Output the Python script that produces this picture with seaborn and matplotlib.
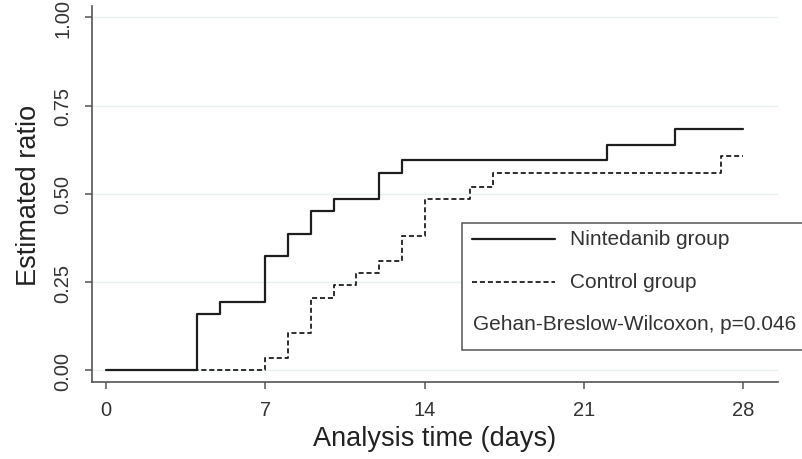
import matplotlib
matplotlib.use("Agg")
import matplotlib.pyplot as plt
from matplotlib.patches import Rectangle
from matplotlib.lines import Line2D
import seaborn as sns
import pandas as pd

# Cumulative event ratio by day for each arm (step functions)
nintedanib_days = [0, 4, 5, 7, 8, 9, 10, 12, 13, 22, 25, 28]
nintedanib_ratio = [0.0, 0.161, 0.194, 0.323, 0.387, 0.452, 0.484, 0.559, 0.597, 0.637, 0.683, 0.683]

control_days = [0, 7, 8, 9, 10, 11, 12, 13, 14, 16, 17, 27, 28]
control_ratio = [0.0, 0.034, 0.105, 0.206, 0.242, 0.277, 0.310, 0.380, 0.484, 0.518, 0.558, 0.608, 0.608]

x_ticks = [0, 7, 14, 21, 28]
y_ticks = [0.0, 0.25, 0.5, 0.75, 1.0]
y_tick_labels = ["0.00", "0.25", "0.50", "0.75", "1.00"]

group_labels = ["Nintedanib group", "Control group"]
test_note = "Gehan-Breslow-Wilcoxon, p=0.046"

sns.set_theme(style="white")
plt.rcParams["font.family"] = ["Liberation Sans", "DejaVu Sans"]

fig = plt.figure(figsize=(8.03, 4.60), dpi=100)
ax = fig.add_axes([92 / 803, 1 - 383 / 460, (778 - 92) / 803, (383 - 7) / 460])

line_color = "#1e1e1e"
nin_df = pd.DataFrame({"day": nintedanib_days, "ratio": nintedanib_ratio})
ctl_df = pd.DataFrame({"day": control_days, "ratio": control_ratio})

sns.lineplot(data=ctl_df, x="day", y="ratio", ax=ax, estimator=None,
             drawstyle="steps-post", color=line_color, lw=1.3,
             linestyle=(0, (2.8, 1.6)), zorder=3)
sns.lineplot(data=nin_df, x="day", y="ratio", ax=ax, estimator=None,
             drawstyle="steps-post", color=line_color, lw=1.6, zorder=4)

ax.set_xlim(-0.62, 29.52)
ax.set_ylim(-0.033, 1.032)
ax.set_xticks(x_ticks)
ax.set_xticklabels([str(t) for t in x_ticks])
ax.set_yticks(y_ticks)
ax.set_yticklabels(y_tick_labels, rotation=90, va="center")

ax.yaxis.grid(True, color="#e8f0f0", lw=1.0)
ax.xaxis.grid(False)
ax.set_axisbelow(True)

for side in ["top", "right"]:
    ax.spines[side].set_visible(False)
for side in ["left", "bottom"]:
    ax.spines[side].set_color("#555555")
    ax.spines[side].set_linewidth(1.2)

ax.tick_params(axis="both", which="major", direction="out", length=5,
               width=1.1, color="#555555", labelsize=14.5, labelcolor="#333333",
               bottom=True, left=True)
ax.tick_params(axis="x", pad=8)
ax.tick_params(axis="y", pad=9)

ax.set_xlabel("Analysis time (days)", fontsize=19.5, color="#222222", labelpad=4)
ax.set_ylabel("Estimated ratio", fontsize=19.5, color="#222222", labelpad=8)

# Legend panel with the test result, drawn in figure pixel coordinates
W, H = 803, 460
def fx(px):
    return px / W
def fy(py):
    return 1 - py / H

box = Rectangle((fx(462.5), fy(350.5)), fx(830) - fx(462.5), fy(223.5) - fy(350.5),
                transform=fig.transFigure, facecolor="white", edgecolor="#555555",
                lw=1.1, zorder=10)
fig.patches.append(box)

fig.lines.append(Line2D([fx(472), fx(555)], [fy(240), fy(240)], transform=fig.transFigure,
                        color=line_color, lw=1.6, zorder=11))
fig.lines.append(Line2D([fx(472), fx(555)], [fy(283), fy(283)], transform=fig.transFigure,
                        color=line_color, lw=1.3, linestyle=(0, (2.8, 1.6)), zorder=11))
fig.text(fx(570.5), fy(240), group_labels[0], fontsize=15, color="#333333",
         ha="left", va="center", zorder=12)
fig.text(fx(570.5), fy(283), group_labels[1], fontsize=15, color="#333333",
         ha="left", va="center", zorder=12)
fig.text(fx(473), fy(325), test_note, fontsize=15, color="#333333",
         ha="left", va="center", zorder=12)

fig.savefig("out.png", dpi=100)
